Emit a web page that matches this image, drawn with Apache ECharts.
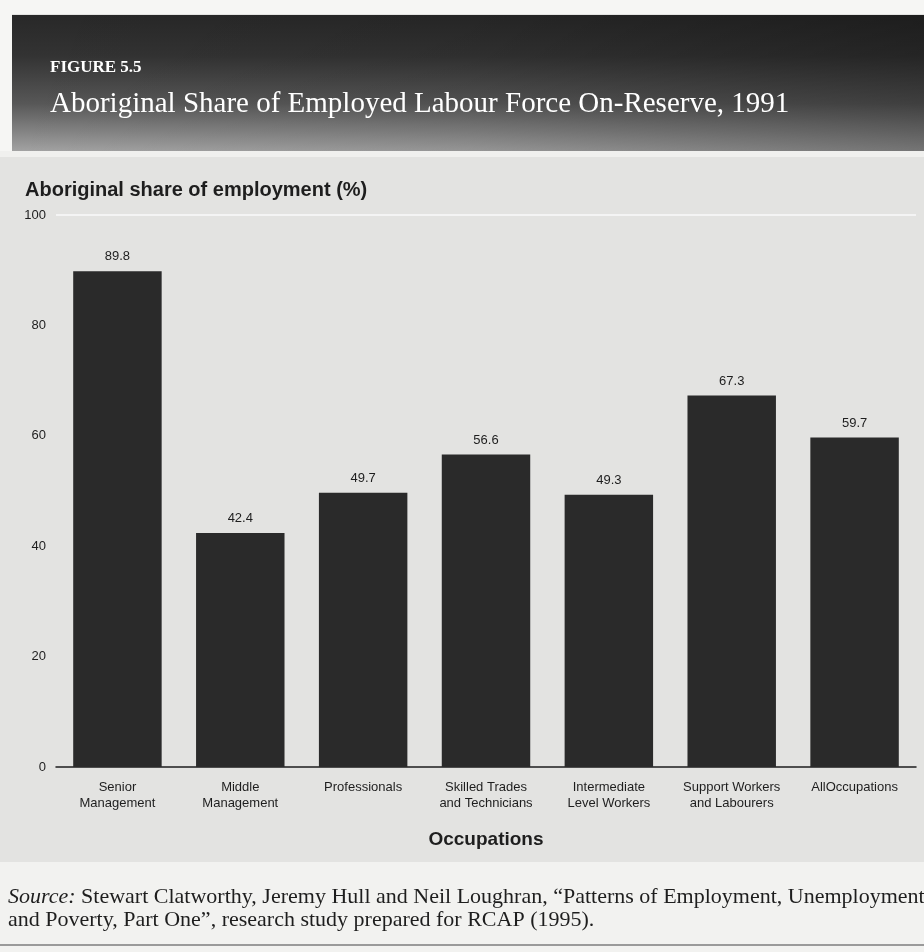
<!DOCTYPE html>
<html><head><meta charset="utf-8">
<script src="https://cdn.jsdelivr.net/npm/echarts@6/dist/echarts.min.js"></script>
<style>html,body{margin:0;padding:0;background:#e4e4e2}#c{width:924px;height:952px}</style>
</head><body><div id="c"></div>
<script>
const categories = ['Senior\nManagement','Middle\nManagement','Professionals','Skilled Trades\nand Technicians','Intermediate\nLevel Workers','Support Workers\nand Labourers','AllOccupations'];
const values = [89.8, 42.4, 49.7, 56.6, 49.3, 67.3, 59.7];
const yTicks = [0, 20, 40, 60, 80, 100];

const sans = '"Liberation Sans Narrow", "Liberation Sans", Arial, sans-serif';
const serif = '"Liberation Serif", "DejaVu Serif", serif';
const chart = echarts.init(document.getElementById('c'));
chart.setOption({
  backgroundColor: '#e3e3e1',
  animation: false,
  graphic: [
    {type:'rect', shape:{x:0,y:0,width:924,height:14}, style:{fill:'#f6f6f4'}, z:-10},
    {type:'rect', shape:{x:0,y:14,width:12,height:138}, style:{fill:'#f6f6f4'}, z:-10},
    {type:'rect', shape:{x:12,y:15,width:912,height:136},
     style:{fill:{type:'linear',x:0,y:0,x2:0,y2:1,colorStops:[{offset:0,color:'#282828'},{offset:0.3,color:'#333333'},{offset:0.65,color:'#575757'},{offset:1,color:'#a2a2a2'}]}}, z:-6},
    {type:'rect', shape:{x:12,y:15,width:912,height:136},
     style:{fill:{type:'linear',x:0,y:0,x2:1,y2:0,colorStops:[{offset:0,color:'rgba(0,0,0,0)'},{offset:0.5,color:'rgba(0,0,0,0.08)'},{offset:1,color:'rgba(0,0,0,0.28)'}]}}, z:-5},
    {type:'rect', shape:{x:0,y:151,width:924,height:6}, style:{fill:'#f0f0ee'}, z:-4},
    {type:'rect', shape:{x:0,y:862,width:924,height:90}, style:{fill:'#f2f2f0'}, z:-4},
    {type:'rect', shape:{x:0,y:944,width:924,height:2}, style:{fill:'#9a9a9a'}, z:-3},
    {type:'text', left:50, top:59, style:{text:'FIGURE 5.5', fill:'#ffffff', font:'bold 17px ' + serif, letterSpacing:1}},
    {type:'text', left:50, top:90, style:{text:'Aboriginal Share of Employed Labour Force On-Reserve, 1991', fill:'#ffffff', font:'29px ' + serif}},
    {type:'text', left:25, top:180, style:{text:'Aboriginal share of employment (%)', fill:'#1e1e1e', font:'bold 20px ' + sans}},
    {type:'text', left:8, top:886, style:{
      text:'{i|Source:} Stewart Clatworthy, Jeremy Hull and Neil Loughran, \u201cPatterns of Employment, Unemployment\nand Poverty, Part One\u201d, research study prepared for RCAP (1995).',
      fill:'#1e1e1e', font:'22px ' + serif, lineHeight:23,
      rich:{i:{fontStyle:'italic', fontSize:22, fontFamily:serif, fill:'#1e1e1e'}}}}
  ],
  grid: {left:56, right:8, top:215, bottom:185, containLabel:false},
  xAxis: {
    type:'category', data: categories,
    name:'Occupations', nameLocation:'middle', nameGap:63,
    nameTextStyle:{fontSize:19, fontWeight:'bold', color:'#1e1e1e', fontFamily:sans},
    axisLine:{lineStyle:{color:'#1e1e1e', width:1.5}},
    axisTick:{show:false},
    axisLabel:{interval:0, fontSize:13, lineHeight:16, margin:12, color:'#1e1e1e', fontFamily:sans}
  },
  yAxis: {
    type:'value', min:0, max:100, interval:20,
    axisLine:{show:false}, axisTick:{show:false},
    splitLine:{show:false},
    axisLabel:{fontSize:13, margin:10, color:'#1e1e1e', fontFamily:sans,
      formatter: v => yTicks.includes(v) ? String(v) : ''}
  },
  series: [{
    type:'bar', data: values, barCategoryGap:'28%',
    itemStyle:{color:'#2a2a2a'},
    label:{show:true, position:'top', distance:8, fontSize:13, color:'#1e1e1e', fontFamily:sans, formatter: p => p.value.toFixed(1)},
    markLine:{silent:true, symbol:'none', label:{show:false}, lineStyle:{color:'#fafafa', width:1.5, type:'solid'}, data:[{yAxis:100}]}
  }]
});
</script></body></html>
